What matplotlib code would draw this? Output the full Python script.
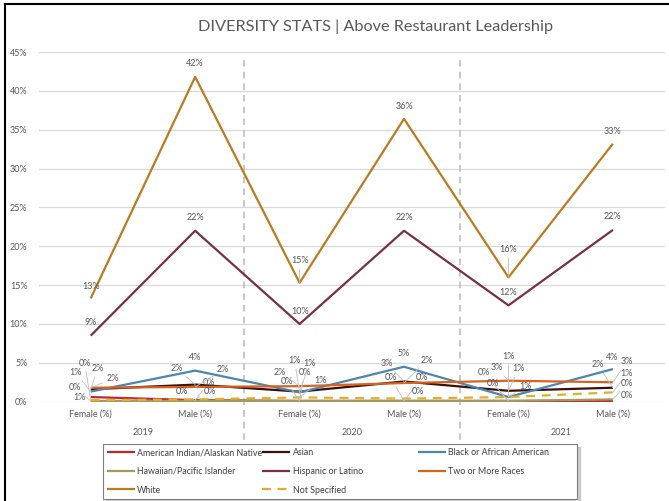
import matplotlib
matplotlib.use("Agg")
import matplotlib.pyplot as plt
from matplotlib.lines import Line2D
from matplotlib.ticker import PercentFormatter

plt.rcParams['font.family'] = ['Lato', 'DejaVu Sans']

# data (percent)
categories = ["Female (%)", "Male (%)", "Female (%)", "Male (%)", "Female (%)", "Male (%)"]
years = ["2019", "2020", "2021"]

am_indian = [0.6, 0.2, 0.1, 0.1, 0.1, 0.1]
asian = [1.6, 2.2, 1.3, 2.6, 1.4, 1.8]
black = [1.3, 4.0, 1.2, 4.5, 0.6, 4.2]
hawaiian = [0.1, 0.1, 0.1, 0.1, 0.1, 0.3]
hispanic = [8.5, 22.0, 10.0, 22.0, 12.4, 22.1]
two_more = [1.8, 1.9, 2.0, 2.4, 2.7, 2.5]
white = [13.3, 41.8, 15.3, 36.4, 16.0, 33.2]
not_spec = [0.2, 0.3, 0.55, 0.4, 0.6, 1.2]

names = ["American Indian/Alaskan Native", "Asian", "Black or African American",
         "Hawaiian/Pacific Islander", "Hispanic or Latino", "Two or More Races",
         "White", "Not Specified"]
series = [am_indian, asian, black, hawaiian, hispanic, two_more, white, not_spec]
colors = ["#C0282D", "#3B0F0A", "#4B87B1", "#A19B5F", "#7A2E47", "#D9621E",
          "#BF7A1C", "#E2B123"]

# label offsets (pixels) for each point
offsets = {
    "American Indian/Alaskan Native": [(-11, 0), (14, 18), (5, 28), (-13, 23), (-25, 28), (14, 5)],
    "Hawaiian/Pacific Islander": [(-16, 13), (-13, 9), (-13, 19), (18, 23), (-16, 17), (14, 16)],
    "Black or African American": [(-15, 19), (0, 13), (-5, 32), (0, 13), (0, 41), (-1, 12)],
    "Not Specified": [(-6, 37), (15, 8), (21, 17), (14, 7), (17, 11), (14, 19)],
    "Asian": [(7, 21), (-18, 16), (10, 28), (-17, 18), (10, 22), (-15, 23)],
    "Two or More Races": [(22, 9), (28, 17), (-20, 14), (23, 23), (-12, 13), (14, 21)],
    "White": [(0, 12), (0, 13), (0, 22), (0, 12), (0, 28), (0, 12)],
    "Hispanic or Latino": [(0, 13), (0, 13), (0, 12), (0, 13), (0, 13), (0, 13)],
}

fig = plt.figure(figsize=(6.69, 5.01), dpi=100)
ax = fig.add_axes([38.5/669, 1-401.7/501, 626.6/669, 349.7/501])

x = list(range(len(categories)))
for name, vals, c in zip(names, series, colors):
    ls = (0, (4, 3)) if name == "Not Specified" else "-"
    z = 4 if name in ("White", "Hispanic or Latino") else 3
    ax.plot(x, vals, color=c, lw=1.6, ls=ls, label=name, zorder=z,
            solid_capstyle='butt')

for name, vals in zip(names, series):
    for xi, v, (dx, dy) in zip(x, vals, offsets[name]):
        far = (dx*dx + dy*dy) ** 0.5 > 15
        ax.annotate(f"{int(v + 0.5)}%", xy=(xi, v), xytext=(dx, dy),
                    textcoords='offset pixels', ha='center', va='center',
                    fontsize=6.5, color='#595959', zorder=6,
                    arrowprops=dict(arrowstyle='-', color='#BFBFBF', lw=0.6,
                                    shrinkA=1, shrinkB=0) if far else None)

ax.set_xlim(-0.5, 5.5)
ax.set_ylim(0, 45)
ax.set_yticks(range(0, 46, 5))
ax.yaxis.set_major_formatter(PercentFormatter(xmax=100, decimals=0))
ax.set_xticks(x)
ax.set_xticklabels(categories)
ax.tick_params(length=0, labelsize=6.5, labelcolor='#595959')
ax.tick_params(axis='y', pad=8)
ax.tick_params(axis='x', pad=6)
ax.grid(axis='y', color='#D9D9D9', lw=0.9)
ax.set_axisbelow(True)
for s in ax.spines.values():
    s.set_visible(False)

# year groups and dividers
for i, yr in enumerate(years):
    ax.annotate(yr, xy=(2*i + 0.5, 0), xycoords=('data', 'axes fraction'),
                xytext=(0, -31), textcoords='offset pixels', ha='center',
                va='center', fontsize=6.5, color='#595959')
for xd in (1.47, 3.54):
    ax.axvline(xd, ymin=-0.11, ymax=0.99, color='#BFBFBF', lw=1.2,
               dashes=(4, 3), clip_on=False, zorder=1)

fig.text(376/669, 1-27/501, "DIVERSITY STATS | Above Restaurant Leadership",
         ha='center', va='center', fontsize=11.7, color='#595959')

# legend in row order, equal column widths like Excel
order = [0, 3, 6, 1, 4, 7, 2, 5]
handles, labels = ax.get_legend_handles_labels()
leg = fig.legend([handles[i] for i in order], [labels[i] for i in order],
                 ncol=3, loc='upper left',
                 bbox_to_anchor=(103/669, 1-444/501),
                 fontsize=6.4, frameon=True, fancybox=False,
                 handlelength=3.1, handletextpad=0.3, labelspacing=1.1,
                 borderpad=0.45, borderaxespad=0, columnspacing=0.0,
                 shadow=dict(color='#A0A0A0'))
leg._legend_handle_box.mode = 'equal'
leg.get_frame().set_edgecolor('#7F7F7F')
leg.get_frame().set_linewidth(0.8)
for t in leg.get_texts():
    t.set_color('#404040')

# outer border
fig.add_artist(Line2D([5/669, 5/669], [0, 1-4/501], color='black', lw=1.5))
fig.add_artist(Line2D([5/669, 1], [1-4/501, 1-4/501], color='black', lw=1.5))

fig.savefig("out.png", dpi=100)
